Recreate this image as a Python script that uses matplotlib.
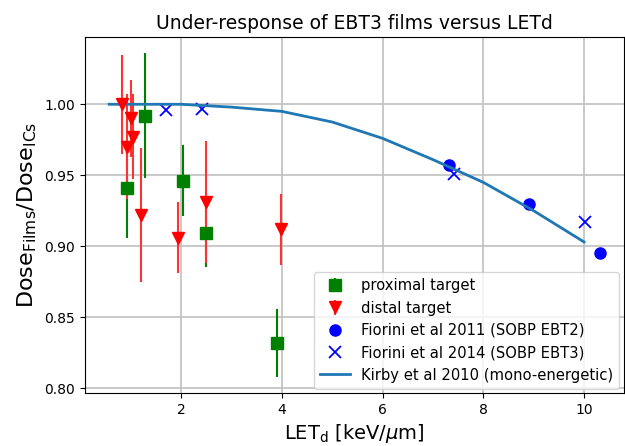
import matplotlib
matplotlib.use('Agg')
import matplotlib.pyplot as plt

# proximal target (films)
let_prox = [0.93, 1.29, 2.03, 2.50, 3.91]
dose_prox = [0.941, 0.992, 0.946, 0.909, 0.832]
err_prox = [0.035, 0.044, 0.025, 0.024, 0.024]

# distal target (films)
let_dist = [0.82, 0.92, 1.00, 1.05, 1.21, 1.94, 2.50, 3.99]
dose_dist = [1.000, 0.970, 0.990, 0.977, 0.922, 0.906, 0.931, 0.912]
err_dist = [0.035, 0.037, 0.027, 0.030, 0.047, 0.025, 0.043, 0.025]

# literature
let_f2011 = [7.31, 8.91, 10.31]
dose_f2011 = [0.957, 0.930, 0.895]
let_f2014 = [1.70, 2.41, 7.41, 10.02]
dose_f2014 = [0.996, 0.997, 0.951, 0.917]
let_kirby = [0.57, 1.0, 2.0, 2.5, 3.0, 4.0, 5.0, 6.0, 7.0, 8.0, 9.0, 10.0]
dose_kirby = [1.000, 1.000, 1.000, 0.999, 0.998, 0.995, 0.9875, 0.976, 0.961, 0.945, 0.925, 0.903]

fig = plt.figure(figsize=(6.25, 4.46), dpi=100)
ax = fig.add_axes([0.136, 0.119, 0.862, 0.798])

h1 = ax.errorbar(let_prox, dose_prox, yerr=err_prox, fmt='s', color='green', ms=8,
                 elinewidth=1.5, label='proximal target')
h2 = ax.errorbar(let_dist, dose_dist, yerr=err_dist, fmt='v', color='red', ms=9,
                 elinewidth=1.5, ecolor=(1, 0.2, 0.2), label='distal target')
h3, = ax.plot(let_f2011, dose_f2011, 'o', color='blue', ms=8, label='Fiorini et al 2011 (SOBP EBT2)')
h4, = ax.plot(let_f2014, dose_f2014, 'x', color='blue', ms=8, mew=1.3, label='Fiorini et al 2014 (SOBP EBT3)')
h5, = ax.plot(let_kirby, dose_kirby, '-', color='C0', lw=2, label='Kirby et al 2010 (mono-energetic)')

ax.set_xlim(0.09, 10.79)
ax.set_ylim(0.7966, 1.0474)
ax.set_xticks([2, 4, 6, 8, 10])
ax.set_yticks([0.80, 0.85, 0.90, 0.95, 1.00])
ax.set_yticklabels(['0.80', '0.85', '0.90', '0.95', '1.00'])
ax.tick_params(labelsize=10)
ax.grid(True, color='#c0c0c0', lw=1.2)
ax.set_axisbelow(True)

ax.set_title('Under-response of EBT3 films versus LETd', fontsize=13.5)
ax.set_xlabel(r'LET$_\mathrm{d}$ [keV/$\mu$m]', fontsize=14)
ax.set_ylabel(r'$\mathregular{Dose_{Films}/Dose_{ICs}}$', fontsize=16)
ax.legend(handles=[h1, h2, h3, h4, h5], loc='lower right', fontsize=10.6,
          borderaxespad=0.3, handletextpad=0.8)

fig.savefig('out.png', dpi=100)
